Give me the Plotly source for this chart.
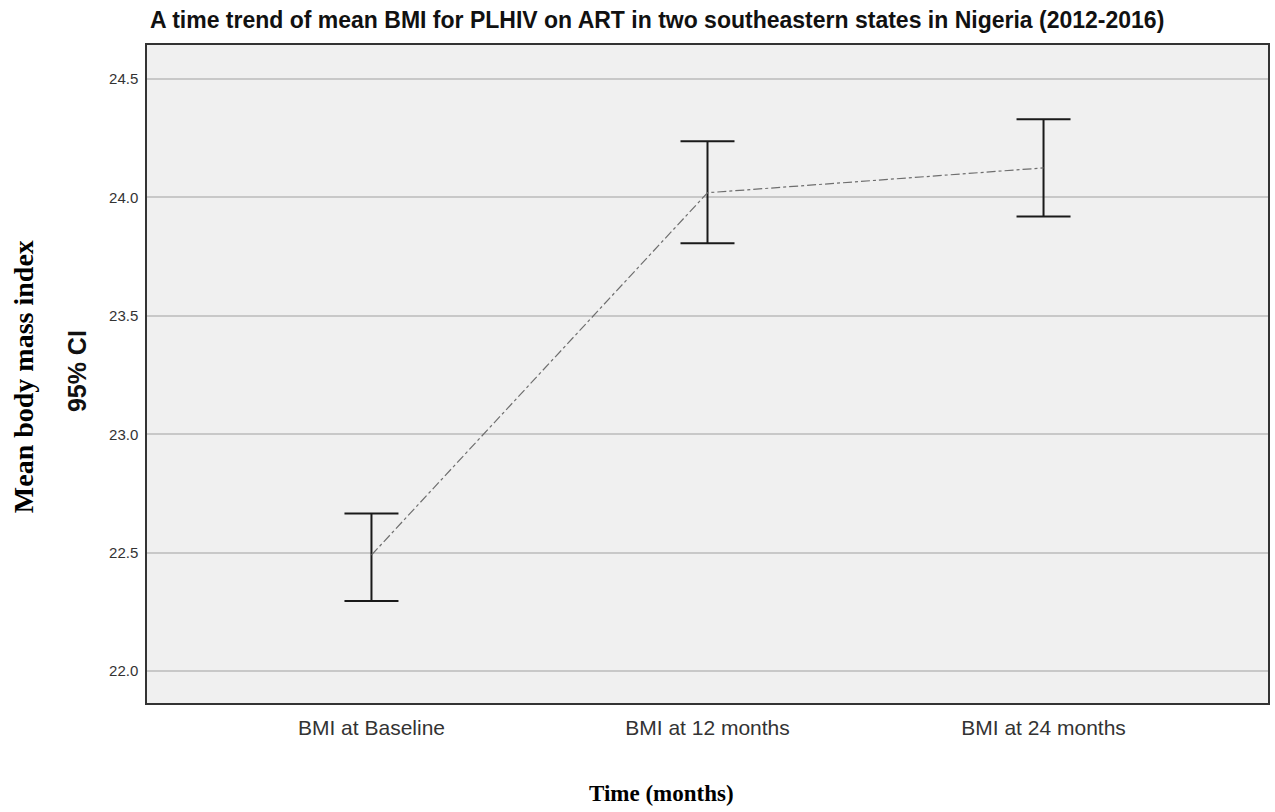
import plotly.graph_objects as go

# Mean BMI with 95% confidence limits at each time point
time_points = ["BMI at Baseline", "BMI at 12 months", "BMI at 24 months"]
mean_bmi = [22.49, 24.02, 24.125]
ci_upper = [22.665, 24.237, 24.33]
ci_lower = [22.296, 23.807, 23.92]
y_ticks = [22.0, 22.5, 23.0, 23.5, 24.0, 24.5]

err_plus = [u - m for u, m in zip(ci_upper, mean_bmi)]
err_minus = [m - l for m, l in zip(mean_bmi, ci_lower)]

W, H = 1275, 812
ML, MR, MT, MB = 147, 5, 45, 109
PW, PH = W - ML - MR, H - MT - MB


def px_to_paper(x, y):
    """Convert page pixel positions to paper coordinates of the plot area."""
    return (x - ML) / PW, (H - MB - y) / PH


fig = go.Figure()
fig.add_trace(go.Scatter(
    x=time_points,
    y=mean_bmi,
    mode="lines",
    line=dict(color="#6e6e6e", width=1.2, dash="dashdot"),
    error_y=dict(
        type="data",
        symmetric=False,
        array=err_plus,
        arrayminus=err_minus,
        color="#1a1a1a",
        thickness=2,
        width=27,
    ),
    showlegend=False,
    hoverinfo="x+y",
))

labels = [
    # text, x, y, angle, anchor, font
    ("<b>A time trend of mean BMI for PLHIV on ART in two southeastern states in Nigeria (2012-2016)</b>",
     148, 20, 0, "left", dict(size=23, color="#111111", family="Liberation Sans, Arial, sans-serif")),
    ("<b>Time (months)</b>",
     662, 793, 0, "center", dict(size=23, color="#000000", family="Liberation Serif, Times New Roman, serif")),
    ("<b>Mean body mass index</b>",
     23, 377, -90, "center", dict(size=28, color="#000000", family="Liberation Serif, Times New Roman, serif")),
    ("<b>95% CI</b>",
     77, 371, -90, "center", dict(size=25, color="#111111", family="Liberation Sans, Arial, sans-serif")),
]

annotations = []
for text, x, y, angle, anchor, font in labels:
    xp, yp = px_to_paper(x, y)
    annotations.append(dict(
        text=text, x=xp, y=yp, xref="paper", yref="paper", showarrow=False,
        textangle=angle, xanchor=anchor, yanchor="middle", font=font,
    ))

fig.update_layout(
    width=W,
    height=H,
    margin=dict(l=ML, r=MR, t=MT, b=MB),
    paper_bgcolor="white",
    plot_bgcolor="#f0f0f0",
    font=dict(family="Liberation Sans, Arial, sans-serif", color="#222222"),
    xaxis=dict(
        type="category",
        range=[-0.668, 2.668],
        showgrid=False,
        showline=True,
        linecolor="#333333",
        linewidth=1.5,
        mirror=True,
        ticks="",
        ticklabelstandoff=5,
        tickfont=dict(size=21, color="#333333"),
        zeroline=False,
    ),
    yaxis=dict(
        range=[21.865, 24.644],
        tickvals=y_ticks,
        ticktext=[f"{v:.1f}" for v in y_ticks],
        showgrid=True,
        gridcolor="#c8c8c8",
        gridwidth=1.5,
        showline=True,
        linecolor="#333333",
        linewidth=1.5,
        mirror=True,
        ticks="",
        ticklabelstandoff=4,
        tickfont=dict(size=15, color="#333333"),
        zeroline=False,
    ),
    annotations=annotations,
)

fig.write_html("out.html")
